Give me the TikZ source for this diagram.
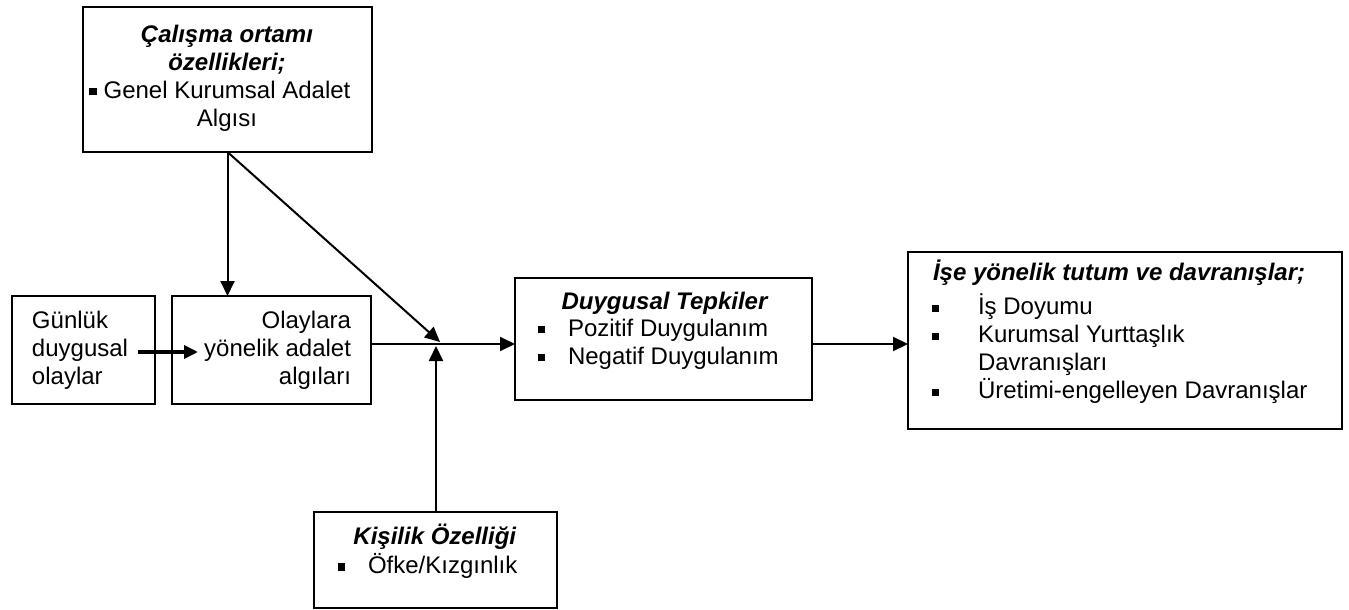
\documentclass[tikz,border=0pt]{standalone}
\usepackage{fontspec}
\setmainfont{Liberation Sans}
\usetikzlibrary{arrows.meta}
\newcommand{\bul}{\rule[0.12em]{0.3em}{0.3em}}
\begin{document}
\begin{tikzpicture}[x=0.5pt,y=-0.5pt,
  box/.style={draw, line width=1pt, inner sep=0pt, outer sep=0pt},
  txt/.style={inner sep=0pt, outer sep=0pt, font=\fontsize{12}{14}\selectfont},
  arr/.style={line width=1pt, -{Triangle[length=7.5pt,width=7pt]}},
  thickarr/.style={line width=2pt, -{Triangle[length=7pt,width=6.5pt]}}]
\useasboundingbox (0,0) rectangle (1349,610);
% boxes
\node[box, minimum width=144.5pt, minimum height=72.5pt] (top) at (227.5,79.5) {};
\node[box, minimum width=71.5pt, minimum height=54pt] (gun) at (83.5,350) {};
\node[box, minimum width=99.5pt, minimum height=54pt] (ola) at (271.5,350) {};
\node[box, minimum width=148.5pt, minimum height=61pt] (duy) at (663.5,339) {};
\node[box, minimum width=217pt, minimum height=88.5pt] (ise) at (1125,340.5) {};
\node[box, minimum width=121.5pt, minimum height=48pt] (kis) at (435.5,560) {};
% texts
\node[txt, align=center] (toptext) at (227,78)
  {\textbf{\textit{Çalışma ortamı}}\\\textbf{\textit{özellikleri;}}\\\llap{\bul\hspace{3.5pt}}Genel Kurumsal Adalet\\Algısı};
\node[txt, align=left, anchor=west] (guntext) at (32,350) {Günlük\\duygusal\\olaylar};
\node[txt, align=right, anchor=east] (olatext) at (351,350) {Olaylara\\yönelik adalet\\algıları};
\node[txt] (duytitle) at (665,303) {\textbf{\textit{Duygusal Tepkiler}}};
\node[txt, align=left, anchor=west] (duylist) at (538,344)
  {\makebox[15pt][l]{\bul}Pozitif Duygulanım\\\makebox[15pt][l]{\bul}Negatif Duygulanım};
\node[txt, anchor=west] (isetitle) at (933,273) {\textbf{\textit{İşe yönelik tutum ve davranışlar;}}};
\node[txt, align=left, anchor=west] (iselist) at (932,349)
  {\makebox[23pt][l]{\bul}İş Doyumu\\\makebox[23pt][l]{\bul}Kurumsal Yurttaşlık\\\makebox[23pt][l]{}Davranışları\\\makebox[23pt][l]{\bul}Üretimi-engelleyen Davranışlar};
\node[txt] (kistitle) at (435,537) {\textbf{\textit{Kişilik Özelliği}}};
\node[txt, anchor=west] (kislist) at (338,566) {\makebox[15pt][l]{\bul}Öfke/Kızgınlık};
% connectors
\coordinate (J) at (436,344);
\coordinate (Jd) at (440,342);
\draw[arr] (top.south) -- (ola.north -| top.south);
\draw[arr] (top.south) -- (Jd);
\draw[line width=1pt] (ola.east |- J) -- (J);
\draw[arr] (J) -- (duy.west |- J);
\draw[arr] (kis.north -| J) -- ([yshift=-1pt]J);
\draw[arr] (duy.east |- J) -- (ise.west |- J);
\draw[thickarr] ([xshift=-8.5pt,yshift=-1pt]gun.east) -- ([xshift=13pt,yshift=-1pt]ola.west);
\end{tikzpicture}
\end{document}
